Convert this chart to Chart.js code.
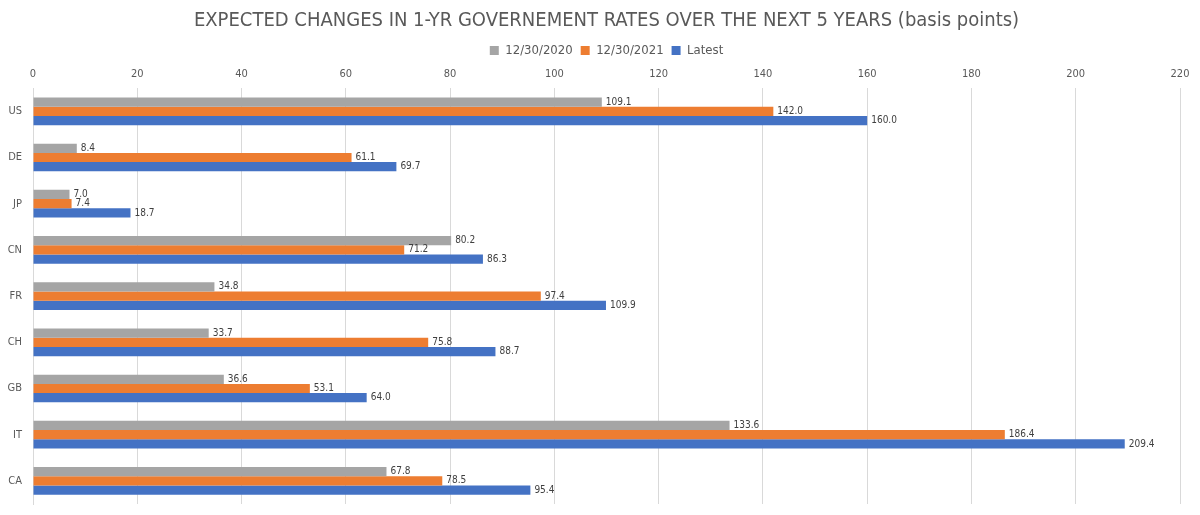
<!DOCTYPE html>
<html>
<head>
<meta charset="utf-8">
<script src="https://cdn.jsdelivr.net/npm/chart.js@4/dist/chart.umd.min.js"></script>
<style>
  body { margin: 0; background: #fff; }
  #wrap { width: 1200px; height: 515px; }
</style>
</head>
<body>
<div id="wrap"><canvas id="myChart"></canvas></div>
<script>
const countries = ["US", "DE", "JP", "CN", "FR", "CH", "GB", "IT", "CA"]
const rates2020 = [109.1, 8.4, 7.0, 80.2, 34.8, 33.7, 36.6, 133.6, 67.8]
const rates2021 = [142.0, 61.1, 7.4, 71.2, 97.4, 75.8, 53.1, 186.4, 78.5]
const ratesLatest = [160.0, 69.7, 18.7, 86.3, 109.9, 88.7, 64.0, 209.4, 95.4]
const seriesNames = ["12/30/2020", "12/30/2021", "Latest"]

const fontName = "'DejaVu Sans Condensed', 'Liberation Sans Narrow', sans-serif"

// labels at the end of each bar
const barLabels = {
  id: "barLabels",
  afterDatasetsDraw(chart) {
    const ctx = chart.ctx
    ctx.save()
    ctx.font = "10px " + fontName
    ctx.fillStyle = "#404040"
    ctx.textBaseline = "middle"
    ctx.textAlign = "left"
    chart.data.datasets.forEach((ds, i) => {
      chart.getDatasetMeta(i).data.forEach((bar, j) => {
        ctx.fillText(ds.data[j].toFixed(1), bar.x + 4, bar.y)
      })
    })
    ctx.restore()
  },
}

// legend is a bit too tall with padding 8, trim the space under it
const tightLegend = {
  id: "tightLegend",
  beforeLayout(chart) {
    const lg = chart.legend
    if (lg && !lg._trimmed) {
      const fit = lg.fit
      lg.fit = function () {
        fit.call(this)
        this.height -= 6
      }
      lg._trimmed = true
    }
  },
}

const ctx = document.getElementById("myChart").getContext("2d")
const myChart = new Chart(ctx, {
  type: "bar",
  data: {
    labels: countries,
    datasets: [
      { label: seriesNames[0], data: rates2020, backgroundColor: "#a5a5a5" },
      { label: seriesNames[1], data: rates2021, backgroundColor: "#ed7d31" },
      { label: seriesNames[2], data: ratesLatest, backgroundColor: "#4472c4" },
    ],
  },
  options: {
    indexAxis: "y",
    responsive: true,
    maintainAspectRatio: false,
    animation: false,
    datasets: { bar: { categoryPercentage: 0.6, barPercentage: 1.0 } },
    layout: { padding: { left: 6, right: 20, top: 7, bottom: 11 } },
    scales: {
      x: {
        position: "top",
        min: 0,
        max: 220,
        ticks: { stepSize: 20, color: "#595959", font: { family: fontName, size: 11 }, padding: 7 },
        grid: { color: "#d9d9d9", drawTicks: false },
        border: { display: false },
      },
      y: {
        ticks: { color: "#595959", font: { family: fontName, size: 11 }, padding: 3 },
        grid: { display: false },
        border: { color: "#d9d9d9" },
        afterFit: (scale) => { scale.width = 27 },
      },
    },
    plugins: {
      title: {
        display: true,
        fullSize: false,
        text: "EXPECTED CHANGES IN 1-YR GOVERNEMENT RATES OVER THE NEXT 5 YEARS (basis points)",
        color: "#595959",
        font: { family: fontName, size: 20, weight: "normal" },
        padding: { top: 2, bottom: 3 },
      },
      legend: {
        fullSize: false,
        labels: { boxWidth: 9, boxHeight: 9, color: "#595959", font: { family: fontName, size: 13 }, padding: 8 },
      },
      tooltip: { enabled: false },
    },
  },
  plugins: [barLabels, tightLegend],
})
</script>
</body>
</html>
